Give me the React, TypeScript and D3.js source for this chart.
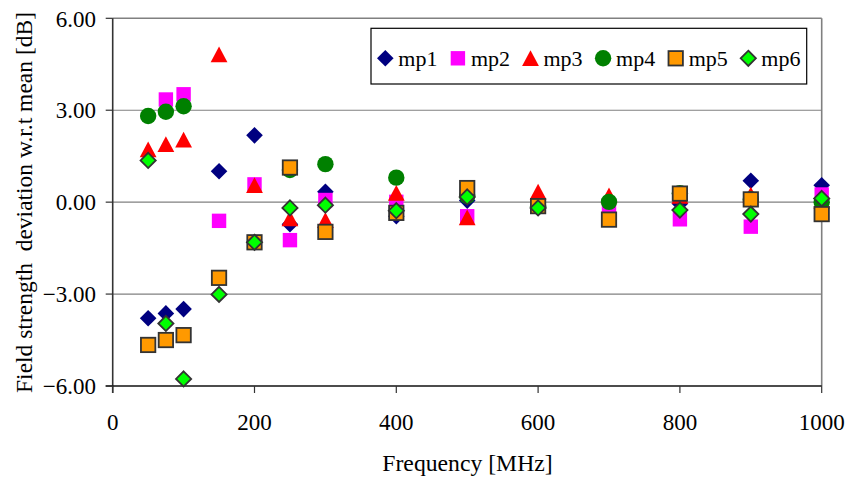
import React from "react";
import * as d3 from "d3";

const freqs = [50, 75, 100, 150, 200, 250, 300, 400, 500, 600, 700, 800, 900, 1000];
const mp1 = [-3.79, -3.63, -3.49, 1.01, 2.18, -0.72, 0.34, -0.46, 0.05, -0.17, 0.0, -0.05, 0.7, 0.55];
const mp2 = [null, 3.35, 3.52, -0.61, 0.58, -1.24, 0.07, 0.01, -0.46, -0.15, -0.1, -0.56, -0.8, 0.25];
const mp3 = [1.72, 1.89, 2.04, 4.82, 0.55, -0.53, -0.59, 0.3, -0.5, 0.34, 0.22, 0.2, 0.24, 0.05];
const mp4 = [2.81, 2.95, 3.13, null, null, 1.05, 1.24, 0.8, 0.2, -0.13, 0.01, 0.29, 0.09, 0.0];
const mp5 = [-4.66, -4.5, -4.34, -2.47, -1.31, 1.13, -0.97, -0.35, 0.46, -0.13, -0.57, 0.28, 0.09, -0.39];
const mp6 = [1.36, -3.96, -5.77, -3.01, -1.31, -0.19, -0.1, -0.28, 0.17, -0.19, null, -0.26, -0.39, 0.12];

const seriesNames = ["mp1", "mp2", "mp3", "mp4", "mp5", "mp6"];
const xTicks = [0, 200, 400, 600, 800, 1000];
const yTicks = [-6, -3, 0, 3, 6];

type Sym = "diamond" | "square" | "triangle" | "circle" | "squareB" | "diamondB";
const styles: { sym: Sym; fill: string; stroke: string }[] = [
  { sym: "diamond", fill: "#000080", stroke: "none" },
  { sym: "square", fill: "#FF00FF", stroke: "none" },
  { sym: "triangle", fill: "#FF0000", stroke: "none" },
  { sym: "circle", fill: "#008000", stroke: "none" },
  { sym: "squareB", fill: "#FF9900", stroke: "#333333" },
  { sym: "diamondB", fill: "#00FF00", stroke: "#333333" },
];

function Marker({ x, y, s }: { x: number; y: number; s: { sym: Sym; fill: string; stroke: string } }) {
  const sw = s.stroke === "none" ? 0 : 1.8;
  switch (s.sym) {
    case "diamond":
      return <path d={`M${x},${y - 8.3}L${x + 8.3},${y}L${x},${y + 8.3}L${x - 8.3},${y}Z`} fill={s.fill} />;
    case "diamondB":
      return (
        <path d={`M${x},${y - 7.6}L${x + 7.6},${y}L${x},${y + 7.6}L${x - 7.6},${y}Z`} fill={s.fill} stroke={s.stroke} strokeWidth={sw} />
      );
    case "square":
      return <rect x={x - 7.2} y={y - 7.2} width={14.4} height={14.4} fill={s.fill} />;
    case "squareB":
      return <rect x={x - 7.2} y={y - 7.2} width={14.4} height={14.4} fill={s.fill} stroke={s.stroke} strokeWidth={sw} />;
    case "triangle":
      return <path d={`M${x},${y - 8}L${x + 8.4},${y + 7.8}L${x - 8.4},${y + 7.8}Z`} fill={s.fill} />;
    case "circle":
      return <circle cx={x} cy={y} r={8.2} fill={s.fill} />;
  }
  return null;
}

export default function App() {
  const x = d3.scaleLinear().domain([0, 1000]).range([112.7, 821.7]);
  const y = d3.scaleLinear().domain([-6, 6]).range([386, 18.3]);
  const data = [mp1, mp2, mp3, mp4, mp5, mp6];
  const font = "Liberation Serif, Times New Roman, Tinos, serif";
  const legendX0 = 385.3;
  const legendStep = 72.6;
  const ts = { fontFamily: font };

  return (
    <svg width={850} height={481} style={{ position: "absolute", left: 0, top: 0, background: "#fff", fontFamily: font }}>
      {yTicks.filter((t) => t !== -6).map((t) => (
        <line key={t} x1={x(0)} x2={x(1000)} y1={y(t)} y2={y(t)} stroke="#808080" strokeWidth={t === 6 ? 1.6 : 1.2} />
      ))}
      <line x1={x(1000)} x2={x(1000)} y1={y(6)} y2={y(-6)} stroke="#808080" strokeWidth={1.6} />
      <line x1={x(0)} x2={x(0)} y1={y(6)} y2={y(-6) + 7} stroke="#333" strokeWidth={1.6} />
      <line x1={x(0) - 7} x2={x(1000)} y1={y(-6)} y2={y(-6)} stroke="#111" strokeWidth={1.6} />
      {yTicks.map((t) => (
        <g key={t}>
          <line x1={x(0) - 7} x2={x(0)} y1={y(t)} y2={y(t)} stroke="#333" strokeWidth={1.2} />
          <text x={96} y={y(t) + 8.2} textAnchor="end" fontSize={23} fill="#000" style={ts}>
            {d3.format(".2f")(t)}
          </text>
        </g>
      ))}
      {xTicks.map((t) => (
        <g key={t}>
          <line x1={x(t)} x2={x(t)} y1={y(-6)} y2={y(-6) + 7} stroke="#333" strokeWidth={1.2} />
          <text x={x(t)} y={429.5} textAnchor="middle" fontSize={23} fill="#000" style={ts}>
            {t}
          </text>
        </g>
      ))}
      <text x={467.5} y={470.5} textAnchor="middle" fontSize={23.7} fill="#000" style={ts}>
        Frequency [MHz]
      </text>
      <text transform={`translate(31.5,202.5) rotate(-90)`} textAnchor="middle" fontSize={23.5} fill="#000" style={{ ...ts, whiteSpace: "pre" }}>
        {"Field strength  deviation w.r.t mean [dB]"}
      </text>
      {data.map((arr, si) => (
        <g key={si}>
          {arr.map((v, i) =>
            v === null ? null : <Marker key={i} x={x(freqs[i])} y={y(v as number)} s={styles[si]} />
          )}
        </g>
      ))}
      <rect x={371} y={28.3} width={435.7} height={55.7} fill="#fff" stroke="#000" strokeWidth={1.2} />
      {seriesNames.map((n, i) => (
        <g key={n}>
          <Marker x={legendX0 + i * legendStep} y={58.3} s={styles[i]} />
          <text x={legendX0 + i * legendStep + 13} y={65.5} fontSize={22} fill="#000" style={ts}>
            {n}
          </text>
        </g>
      ))}
    </svg>
  );
}
